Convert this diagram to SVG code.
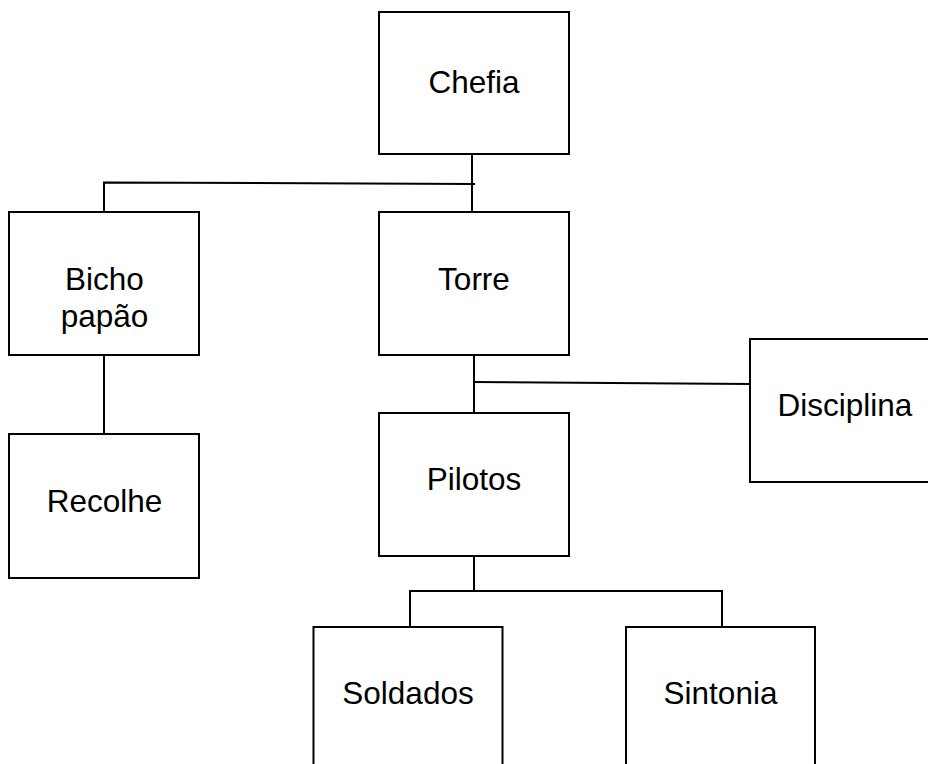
<svg xmlns="http://www.w3.org/2000/svg" width="928" height="764" viewBox="0 0 928 764">
<style>
.box{fill:#fff;stroke:#000;stroke-width:2}
.ln{fill:none;stroke:#000;stroke-width:2}
.t{font-family:"Liberation Sans",Arial,sans-serif;font-size:31.5px;fill:#000;text-anchor:middle}
</style>
<rect width="928" height="764" fill="#fff"/>
<g id="connectors">
<path class="ln" d="M472 154 V212"/>
<path class="ln" d="M104 212 V182.5 L475 184"/>
<path class="ln" d="M104 355 V434"/>
<path class="ln" d="M474 355 V413"/>
<path class="ln" d="M474 382 L750 384"/>
<path class="ln" d="M474 556 V591"/>
<path class="ln" d="M410 627 V591 H722 V627"/>
</g>
<g id="chefia"><rect class="box" x="379" y="12" width="190" height="142"/><text class="t" x="474" y="93">Chefia</text></g>
<g id="bicho"><rect class="box" x="9" y="212" width="190" height="143"/><text class="t" x="104.5" y="290">Bicho</text><text class="t" x="104.5" y="327">papão</text></g>
<g id="torre"><rect class="box" x="379" y="212" width="190" height="143"/><text class="t" x="474" y="290">Torre</text></g>
<g id="recolhe"><rect class="box" x="9" y="434" width="190" height="144"/><text class="t" x="104.5" y="512">Recolhe</text></g>
<g id="disciplina"><rect class="box" x="750" y="339" width="190" height="143"/><text class="t" x="845" y="416">Disciplina</text></g>
<g id="pilotos"><rect class="box" x="379" y="413" width="190" height="143"/><text class="t" x="474" y="490">Pilotos</text></g>
<g id="soldados"><rect class="box" x="313.5" y="627" width="189" height="150"/><text class="t" x="408" y="704">Soldados</text></g>
<g id="sintonia"><rect class="box" x="626" y="627" width="189" height="150"/><text class="t" x="720.5" y="704">Sintonia</text></g>
</svg>
